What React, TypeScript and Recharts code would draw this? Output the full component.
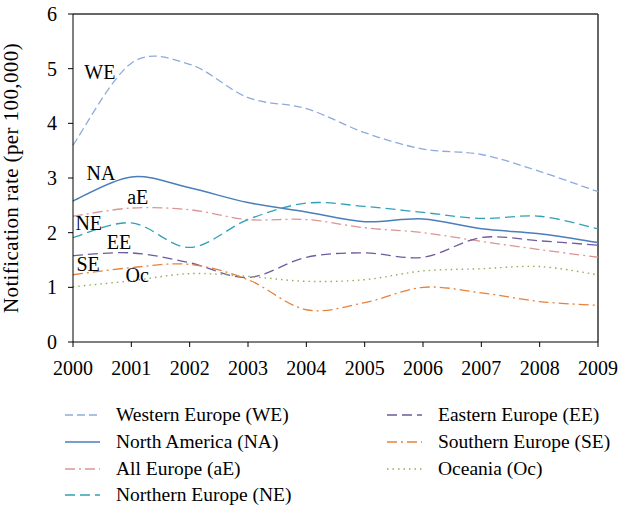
import React from 'react';
import { LineChart, Line, XAxis, YAxis, ReferenceDot, ReferenceLine, Label } from 'recharts';

// years on the x axis
const years = [2000, 2001, 2002, 2003, 2004, 2005, 2006, 2007, 2008, 2009];
const yTicks = [0, 1, 2, 3, 4, 5, 6];

// notification rate per 100,000
const westernEurope = [3.6, 5.1, 5.08, 4.47, 4.27, 3.83, 3.53, 3.43, 3.12, 2.75];
const northAmerica = [2.58, 3.02, 2.82, 2.55, 2.38, 2.2, 2.25, 2.07, 1.98, 1.82];
const allEurope = [2.3, 2.45, 2.42, 2.24, 2.24, 2.09, 2.0, 1.84, 1.69, 1.55];
const northernEurope = [1.91, 2.18, 1.73, 2.24, 2.54, 2.48, 2.37, 2.26, 2.3, 2.07];
const easternEurope = [1.58, 1.63, 1.45, 1.18, 1.55, 1.63, 1.55, 1.91, 1.85, 1.77];
const southernEurope = [1.23, 1.36, 1.42, 1.14, 0.59, 0.72, 1.0, 0.9, 0.74, 0.67];
const oceania = [1.01, 1.12, 1.25, 1.2, 1.11, 1.14, 1.3, 1.34, 1.38, 1.23];

// inline tags inside the plot (data coordinates)
const tagText = ['WE', 'NA', 'aE', 'NE', 'EE', 'SE', 'Oc'];
const tagYear = [2000.46, 2000.48, 2001.11, 2000.27, 2000.79, 2000.26, 2001.1];
const tagValue = [4.95, 3.1, 2.66, 2.18, 1.84, 1.42, 1.22];

const series = [
  { key: 'we', name: 'Western Europe (WE)', values: westernEurope, color: '#8eaadb', dash: '8 4', width: 1.3 },
  { key: 'na', name: 'North America (NA)', values: northAmerica, color: '#4a7ebb', dash: undefined, width: 1.5 },
  { key: 'ae', name: 'All Europe (aE)', values: allEurope, color: '#d99694', dash: '10 4 2 4', width: 1.3 },
  { key: 'ne', name: 'Northern Europe (NE)', values: northernEurope, color: '#31a0b8', dash: '10 5', width: 1.3 },
  { key: 'ee', name: 'Eastern Europe (EE)', values: easternEurope, color: '#6f5a9e', dash: '10 5', width: 1.3 },
  { key: 'se', name: 'Southern Europe (SE)', values: southernEurope, color: '#e8813a', dash: '10 4 2 4', width: 1.3 },
  { key: 'oc', name: 'Oceania (Oc)', values: oceania, color: '#8fb050', dash: '1.5 4', width: 1.4 },
];

const data = years.map((year, i) => {
  const row: Record<string, number> = { year };
  series.forEach((s) => {
    row[s.key] = s.values[i];
  });
  return row;
});

// Excel-like smoothed line (catmull-rom style bezier)
const smoothCurve = (context: any) => {
  let pts: number[][] = [];
  return {
    areaStart() {},
    areaEnd() {},
    lineStart() {
      pts = [];
    },
    point(x: number, y: number) {
      pts.push([+x, +y]);
    },
    lineEnd() {
      if (!pts.length) return;
      context.moveTo(pts[0][0], pts[0][1]);
      for (let i = 0; i < pts.length - 1; i++) {
        const p0 = pts[i - 1] || pts[i];
        const p1 = pts[i];
        const p2 = pts[i + 1];
        const p3 = pts[i + 2] || p2;
        context.bezierCurveTo(
          p1[0] + (p2[0] - p0[0]) / 6,
          p1[1] + (p2[1] - p0[1]) / 6,
          p2[0] - (p3[0] - p1[0]) / 6,
          p2[1] - (p3[1] - p1[1]) / 6,
          p2[0],
          p2[1]
        );
      }
    },
  };
};

const FONT = '"Liberation Serif", "Times New Roman", Tinos, "DejaVu Serif", "Noto Serif", serif';

export default function App() {
  const leftCol = series.slice(0, 4);
  const rightCol = series.slice(4);

  const legendItem = (s: (typeof series)[number]) => (
    <div key={s.key} style={{ display: 'flex', alignItems: 'center', height: 26.7 }}>
      <svg width={35} height={10} style={{ marginRight: 16 }}>
        <line x1={0} y1={5} x2={35} y2={5} stroke={s.color} strokeWidth={1.5} strokeDasharray={s.dash} />
      </svg>
      <span>{s.name}</span>
    </div>
  );

  return (
    <div style={{ position: 'absolute', left: 0, top: 0, width: 626, height: 507, background: '#fff', fontFamily: FONT }}>
      <LineChart width={626} height={382} data={data} margin={{ top: 14, right: 28, left: 0, bottom: 0 }} style={{ fontFamily: FONT }}>
        <XAxis
          dataKey="year"
          type="number"
          domain={[2000, 2009]}
          ticks={years}
          interval={0}
          stroke="#000"
          tickSize={5}
          tickMargin={14}
          height={40}
          tick={{ fill: '#000', fontSize: 20, fontFamily: FONT }}
        />
        <YAxis
          domain={[0, 6]}
          ticks={yTicks}
          interval={0}
          stroke="#000"
          tickSize={5}
          tickMargin={11}
          width={73}
          tick={{ fill: '#000', fontSize: 20, fontFamily: FONT }}
        >
          <Label
            value="Notification rate (per 100,000)"
            angle={-90}
            position="insideLeft"
            offset={11}
            style={{ textAnchor: 'middle', fill: '#000', fontSize: 21, letterSpacing: 0.4, fontFamily: FONT }}
          />
        </YAxis>
        <ReferenceLine y={6} stroke="#333" strokeWidth={1.5} />
        <ReferenceLine x={2009} stroke="#333" strokeWidth={1.5} />
        {series.map((s) => (
          <Line
            key={s.key}
            dataKey={s.key}
            type={smoothCurve as any}
            stroke={s.color}
            strokeWidth={s.width}
            strokeDasharray={s.dash}
            dot={false}
            activeDot={false}
            isAnimationActive={false}
          />
        ))}
        {tagText.map((t, i) => (
          <ReferenceDot
            key={t}
            x={tagYear[i]}
            y={tagValue[i]}
            r={0}
            stroke="none"
            fill="none"
            label={{ value: t, position: 'center', fill: '#000', fontSize: 20, fontFamily: FONT }}
          />
        ))}
      </LineChart>
      <div style={{ position: 'absolute', top: 402, left: 65, display: 'flex', fontSize: 19.5, color: '#000' }}>
        <div style={{ width: 322 }}>{leftCol.map(legendItem)}</div>
        <div>{rightCol.map(legendItem)}</div>
      </div>
    </div>
  );
}
